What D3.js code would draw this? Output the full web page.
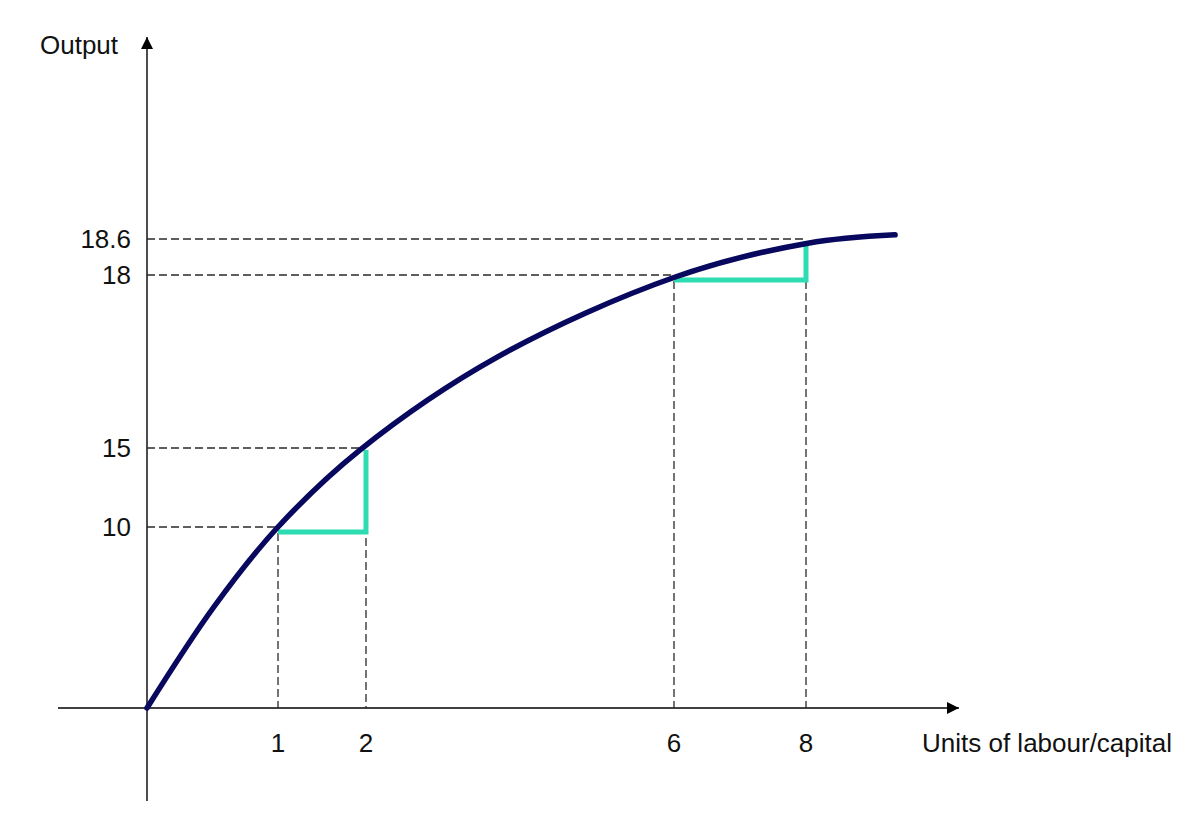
<!DOCTYPE html>
<html>
<head>
<meta charset="utf-8">
<script src="https://cdn.jsdelivr.net/npm/d3@7"></script>
<style>
  html, body { margin: 0; padding: 0; background: #fff; }
  svg text { font-family: "Liberation Sans", Arial, sans-serif; fill: #111; }
</style>
</head>
<body>
<svg id="chart" width="1200" height="831"></svg>
<script>
// ── data ──────────────────────────────────────
const xTicks = [1, 2, 6, 8];
const yTicks = [10, 15, 18, 18.6];
const yTickLabels = ['10', '15', '18', '18.6'];

// production curve (units, output)
const curveX = [0, 0.51, 1.0, 1.93, 3.71, 6.03, 8.03, 9.35];
const curveY = [0, 5.58, 10, 14.87, 16.58, 17.97, 18.53, 18.67];

// marginal-product steps: [x0, y0, x1, y1]
const steps = [
  [1, 10, 2, 15],
  [6, 18, 8, 18.6],
];

const xTitle = 'Units of labour/capital';
const yTitle = 'Output';

// ── scales (schematic, piecewise) ─────────────
const x = d3.scaleLinear().domain([0, 1, 2, 6, 8]).range([147, 278, 366, 674, 806]);
const y = d3.scaleLinear().domain([0, 10, 15, 18, 18.6]).range([708, 527, 448, 275, 239]);

const svg = d3.select('#chart');
const NAVY = '#08085e', GREEN = '#2edcb2', DASH = '#2a2a2a';
const FS = 26;

// arrow markers
svg.append('defs').append('marker').attr('id', 'arr')
  .attr('viewBox', '0 0 12 12').attr('refX', 12).attr('refY', 6)
  .attr('markerWidth', 12).attr('markerHeight', 12).attr('markerUnits', 'userSpaceOnUse')
  .attr('orient', 'auto')
  .append('path').attr('d', 'M0,0 L12,6 L0,12 Z').attr('fill', '#000');

// axes
svg.append('line')
  .attr('x1', 58).attr('y1', y(0)).attr('x2', 959).attr('y2', y(0))
  .attr('stroke', '#000').attr('stroke-width', 1.4).attr('marker-end', 'url(#arr)');
svg.append('line')
  .attr('x1', x(0)).attr('y1', 801).attr('x2', x(0)).attr('y2', 37)
  .attr('stroke', '#000').attr('stroke-width', 1.4).attr('marker-end', 'url(#arr)');

// dashed guides
const guide = steps.flatMap(s => [[s[0], s[1]], [s[2], s[3]]]);
svg.append('g').selectAll('line').data(guide).enter().append('line')
  .attr('x1', x(0)).attr('x2', d => x(d[0]))
  .attr('y1', d => y(d[1])).attr('y2', d => y(d[1]))
  .attr('stroke', DASH).attr('stroke-width', 1.3).attr('stroke-dasharray', '8,4');
svg.append('g').selectAll('line').data(guide).enter().append('line')
  .attr('x1', d => x(d[0])).attr('x2', d => x(d[0]))
  .attr('y1', d => y(d[1]) + 6).attr('y2', y(0))
  .attr('stroke', DASH).attr('stroke-width', 1.3).attr('stroke-dasharray', '8,4');

// green steps
svg.append('g').selectAll('path').data(steps).enter().append('path')
  .attr('d', d => `M${x(d[0])},${y(d[1]) + 5}H${x(d[2])}V${y(d[3]) + 2}`)
  .attr('fill', 'none').attr('stroke', GREEN).attr('stroke-width', 5);

// curve
const pts = curveX.map((d, i) => [d, curveY[i]]);
const line = d3.line().x(d => x(d[0])).y(d => y(d[1])).curve(d3.curveCatmullRom.alpha(0.5));
svg.append('path').datum(pts)
  .attr('d', line)
  .attr('fill', 'none').attr('stroke', NAVY).attr('stroke-width', 5.5)
  .attr('stroke-linecap', 'round');

// tick labels
svg.append('g').selectAll('text').data(xTicks).enter().append('text')
  .attr('x', d => x(d)).attr('y', 752)
  .attr('text-anchor', 'middle').attr('font-size', FS)
  .text(d => d);
svg.append('g').selectAll('text').data(yTicks).enter().append('text')
  .attr('x', 131).attr('y', d => y(d) + 9)
  .attr('text-anchor', 'end').attr('font-size', FS)
  .text((d, i) => yTickLabels[i]);

// titles
svg.append('text').attr('x', 922).attr('y', 752).attr('font-size', FS).text(xTitle);
svg.append('text').attr('x', 40).attr('y', 54).attr('font-size', FS).text(yTitle);
</script>
</body>
</html>
